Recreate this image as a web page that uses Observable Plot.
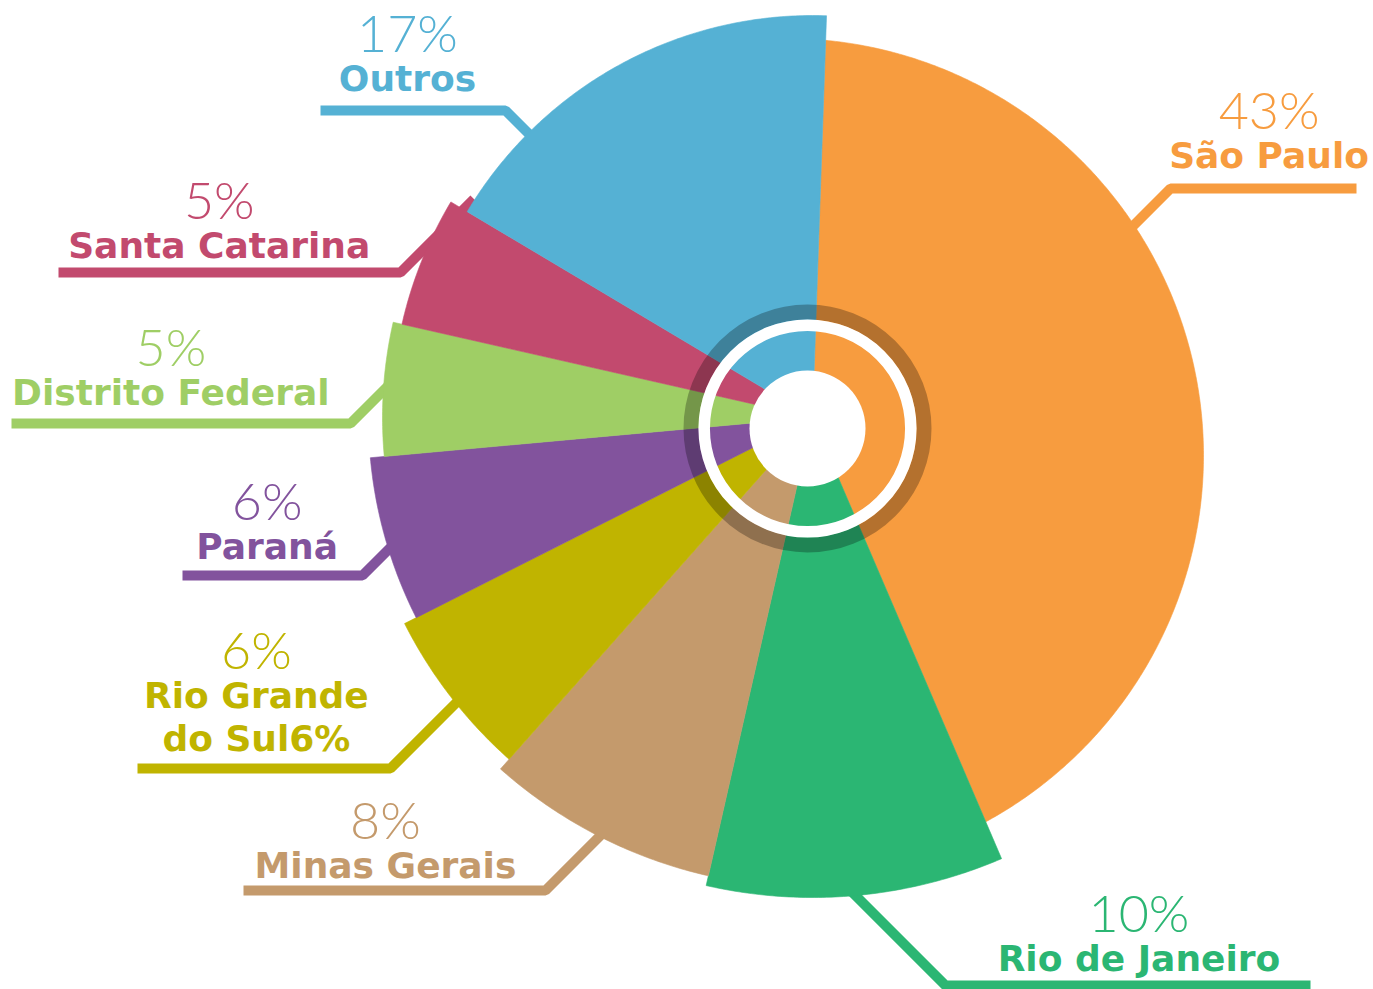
<!DOCTYPE html>
<html><head><meta charset="utf-8">
<script src="https://cdn.jsdelivr.net/npm/d3@7"></script>
<script src="https://cdn.jsdelivr.net/npm/@observablehq/plot@0.6"></script>
<style>html,body{margin:0;padding:0;background:#fff;} svg{display:block}</style>
</head><body><div id="chart"></div>
<script>
// ---- data ----
const states = ["São Paulo", "Rio de Janeiro", "Minas Gerais", "Rio Grande do Sul", "Paraná", "Distrito Federal", "Santa Catarina", "Outros"];
const shares = [43, 10, 8, 6, 6, 5, 5, 17];
const nameLabels = ["São Paulo", "Rio de Janeiro", "Minas Gerais", "Rio Grande\ndo Sul6%", "Paraná", "Distrito Federal", "Santa Catarina", "Outros"];
const colors = ["#F79C3F", "#2BB673", "#C49A6C", "#C0B400", "#82539D", "#9FCE65", "#C24A6E", "#55B1D4"];

// ---- layout (pixels, y up, relative to the ring centre) ----
const W = 1373, H = 989;
const origin = [807, 428];
const apex = [5, 11];
const rotation = 2;
const outerRadius = [417, 480, 470, 457, 444, 430, 421, 402];
const arcOffset = [[-26, -38], null, null, null, null, null, null, null]; // arc centre relative to apex
const labelElbow = [[363, 240], [138, -557], [-262, -462], [-417, -340], [-445, -147], [-457, 5], [-407, 156], [-302, 318]];
const labelEnd = [549, 503, -564, -670, -625, -796, -749, -487];
const labelDiag = [[-1, -1], [-1, 1], [1, 1], [1, 1], [1, 1], [1, 1], [1, 1], [1, -1]];
const nameGap = [21, 15, 13, 18, 17, 19, 15, 20];

const rad = d => d * Math.PI / 180;
function arcCentre(i) {
  const o = arcOffset[i];
  return o ? [apex[0] + o[0], apex[1] + o[1]] : apex;
}
function outerR(i, theta) {
  const u = [Math.sin(rad(theta)), Math.cos(rad(theta))];
  const c = arcCentre(i), R = outerRadius[i];
  const d = [apex[0] - c[0], apex[1] - c[1]];
  const b = u[0] * d[0] + u[1] * d[1];
  const cc = d[0] * d[0] + d[1] * d[1] - R * R;
  return -b + Math.sqrt(b * b - cc);
}

// slices
let acc = 0;
const slices = states.map((state, i) => {
  const a0 = acc / 100 * 360 + rotation;
  acc += shares[i];
  const a1 = acc / 100 * 360 + rotation;
  const pts = [{x: apex[0], y: apex[1]}];
  const n = Math.max(8, Math.ceil((a1 - a0) * 2));
  for (let k = 0; k <= n; k++) {
    const t = a0 + (a1 - a0) * k / n;
    const r = outerR(i, t);
    pts.push({x: apex[0] + r * Math.sin(rad(t)), y: apex[1] + r * Math.cos(rad(t))});
  }
  pts.push({x: apex[0], y: apex[1]});
  return {state, color: colors[i], pts};
});

// leaders and labels
const leaderPts = [];
const labels = states.map((state, i) => {
  const [ex, ey] = labelElbow[i];
  const [sx, sy] = labelDiag[i];
  const c = arcCentre(i), R = outerRadius[i];
  let t = 0, px = ex, py = ey;
  while (Math.hypot(px - c[0], py - c[1]) > R - 18 && t < 400) {
    t += 1; px = ex + sx * t * 0.72; py = ey + sy * t * 0.72;
  }
  leaderPts.push({state, x: labelEnd[i], y: ey}, {state, x: ex, y: ey}, {state, x: px, y: py});
  const lines = nameLabels[i].split("\n").length;
  return {
    state,
    name: nameLabels[i],
    pct: shares[i] + "%",
    x: labelEnd[i] + 0.47 * (ex - labelEnd[i]),
    y: ey + nameGap[i],
    py: ey + nameGap[i] + 39 + (lines - 1) * 43
  };
});

const centre = [{x: 0, y: 0}];

const marks = [
  Plot.line(leaderPts, {x: "x", y: "y", z: "state", stroke: "state", strokeWidth: 10, strokeLinejoin: "miter", strokeLinecap: "butt"}),
  ...slices.map(s => Plot.line(s.pts, {x: "x", y: "y", fill: s.color, stroke: s.color, strokeWidth: 0.6})),
  Plot.dot(centre, {x: "x", y: "y", r: 116.5, fill: "none", stroke: "black", strokeOpacity: 0.27, strokeWidth: 15}),
  Plot.dot(centre, {x: "x", y: "y", r: 103.3, fill: "none", stroke: "white", strokeWidth: 11.5}),
  Plot.dot(centre, {x: "x", y: "y", r: 58, fill: "white", stroke: "none"}),
  Plot.text(labels, {x: "x", y: "y", text: "name", fill: "state", lineAnchor: "bottom", lineHeight: 1.19,
    textAnchor: "middle", fontSize: 36, fontWeight: "bold", fontFamily: "DejaVu Sans"}),
  Plot.text(labels, {x: "x", y: "py", text: "pct", fill: "state", lineAnchor: "bottom",
    textAnchor: "middle", fontSize: 52, fontWeight: 300, fontFamily: "Lato, Roboto, Inter"})
];

const chart = Plot.plot({
  width: W, height: H, margin: 0,
  x: {domain: [-origin[0], W - origin[0]], range: [0, W], axis: null},
  y: {domain: [origin[1] - H, origin[1]], range: [H, 0], axis: null},
  color: {domain: states, range: colors},
  marks
});
document.getElementById("chart").appendChild(chart);
</script>
</body></html>
